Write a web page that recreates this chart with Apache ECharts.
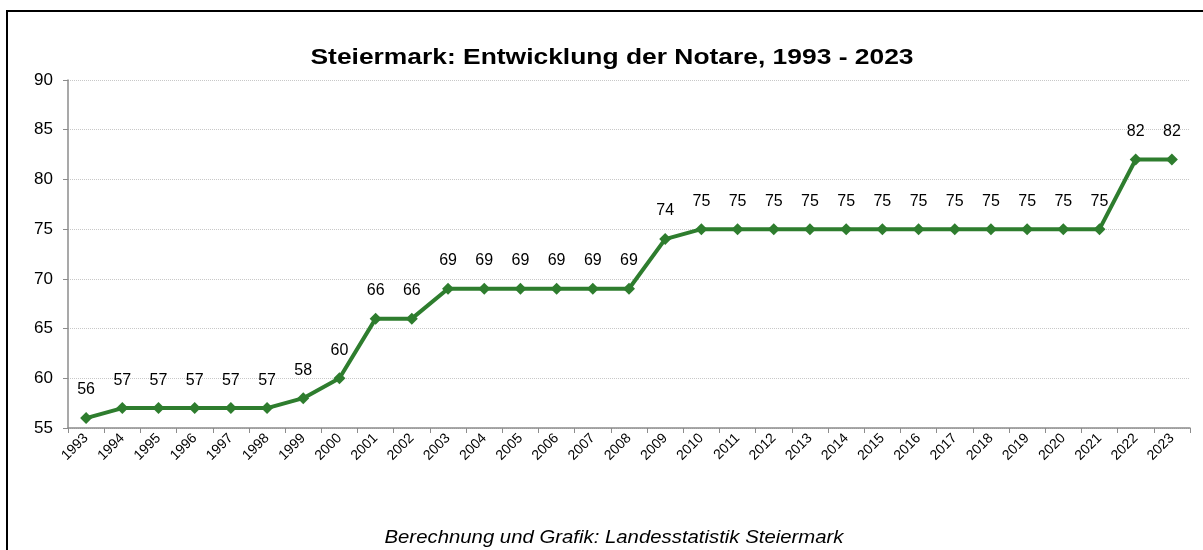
<!DOCTYPE html>
<html><head><meta charset="utf-8">
<script src="https://cdn.jsdelivr.net/npm/echarts@6/dist/echarts.min.js"></script>
<style>html,body{margin:0;padding:0;background:#fff}#c{width:1203px;height:550px}</style>
</head><body><div id="c"></div>
<script>
var years = ['1993','1994','1995','1996','1997','1998','1999','2000','2001','2002','2003','2004','2005','2006','2007','2008','2009','2010','2011','2012','2013','2014','2015','2016','2017','2018','2019','2020','2021','2022','2023'];
var notare = [56,57,57,57,57,57,58,60,66,66,69,69,69,69,69,69,74,75,75,75,75,75,75,75,75,75,75,75,75,82,82];
var yTicks = [55,60,65,70,75,80,85,90];
var titleText = 'Steiermark: Entwicklung der Notare, 1993 - 2023';
var sourceText = 'Berechnung und Grafik: Landesstatistik Steiermark';

var chart = echarts.init(document.getElementById('c'), null, {renderer:'canvas'});
chart.setOption({
  animation:false,
  backgroundColor:'#fff',
  graphic:[
    {type:'rect',shape:{x:7,y:11,width:1250,height:600},style:{fill:'none',stroke:'#000',lineWidth:2},silent:true},
    {type:'text',x:612,y:58,scaleX:1.2,scaleY:1,
      style:{text:titleText,align:'center',verticalAlign:'middle',font:'bold 22px "Liberation Sans", Arial, sans-serif',fill:'#000'}},
    {type:'text',x:614,y:538,scaleX:1.13,scaleY:1,
      style:{text:sourceText,align:'center',verticalAlign:'middle',font:'italic 18px "Liberation Sans Narrow", "Liberation Sans", sans-serif',fill:'#000'}}
  ],
  grid:{left:68,right:13,top:80,bottom:122,containLabel:false},
  xAxis:{type:'category',data:years,boundaryGap:true,
    axisLine:{lineStyle:{color:'#8c8c8c',width:1.5}},
    axisTick:{show:true,alignWithLabel:false,length:5,lineStyle:{color:'#8c8c8c'}},
    axisLabel:{rotate:45,interval:0,fontSize:14,color:'#000',fontFamily:'Liberation Sans, Arial, sans-serif',margin:8}},
  yAxis:{type:'value',min:yTicks[0],max:yTicks[yTicks.length-1],interval:5,
    axisLine:{show:true,lineStyle:{color:'#8c8c8c',width:1.5}},
    axisTick:{show:true,length:5,lineStyle:{color:'#8c8c8c'}},
    axisLabel:{fontSize:17,color:'#000',fontFamily:'Liberation Sans, Arial, sans-serif',margin:15},
    splitLine:{lineStyle:{color:'#c8c8c8',type:'dotted',width:1}}},
  series:[{type:'line',data:notare,symbol:'diamond',symbolSize:12,
    lineStyle:{color:'#2e7d2e',width:4},itemStyle:{color:'#2e7d2e'},
    label:{show:true,position:'top',distance:14,fontSize:16,color:'#000',fontFamily:'Liberation Sans, Arial, sans-serif'}}]
});
</script></body></html>
